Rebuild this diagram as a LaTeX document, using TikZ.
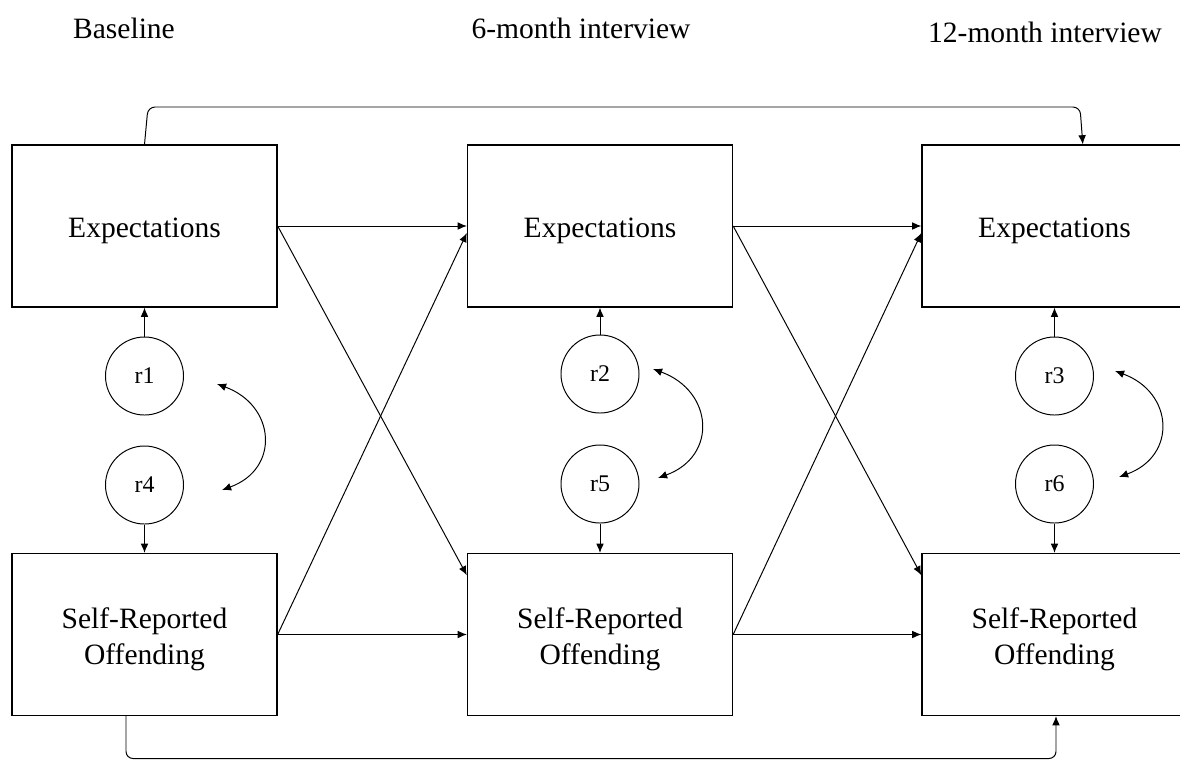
\documentclass[tikz,border=0pt]{standalone}
\usepackage{fontspec}
\setmainfont{Liberation Serif}
\usetikzlibrary{arrows.meta}
\usetikzlibrary{positioning}

\begin{document}
\begin{tikzpicture}[x=0.025cm,y=-0.025cm,
  box/.style={draw,line width=0.9pt,minimum width=6.625cm,minimum height=4.05cm},
  lbl/.style={align=center,yshift=-3.6pt,font=\fontsize{21}{25.5}\selectfont},
  resid/.style={draw,circle,line width=0.7pt,minimum size=1.95cm,inner sep=0pt,font=\fontsize{17}{20}\selectfont},
  head/.style={font=\fontsize{21}{25.5}\selectfont},
  arr/.style={line width=0.7pt,-{Latex[length=6.5pt,width=5.5pt]}},
  cov/.style={line width=0.7pt,{Latex[length=6.5pt,width=5.5pt]}-{Latex[length=6.5pt,width=5.5pt]}}]
\useasboundingbox (0,0) rectangle (1180,759);
\clip (0,0) rectangle (1180,759);

\node[head] (h1) at (124,28) {Baseline};
\node[head] (h2) at (581,28) {6-month interview};
\node[head] (h3) at (1045,32) {12-month interview};

\node[box,label={[lbl]center:Expectations}] (e1) at (144.5,226) {};
\node[box,label={[lbl]center:Expectations}] (e2) at (600,226) {};
\node[box,label={[lbl]center:Expectations}] (e3) at (1054.5,226) {};
\node[box,label={[lbl]center:Self-Reported\\Offending}] (s1) at (144.5,634.5) {};
\node[box,label={[lbl]center:Self-Reported\\Offending}] (s2) at (600,634.5) {};
\node[box,label={[lbl]center:Self-Reported\\Offending}] (s3) at (1054.5,634.5) {};

\node[resid] (r1) at (144.5,376) {r1};
\node[resid] (r4) at (144.5,485) {r4};
\node[resid] (r2) at (600,374) {r2};
\node[resid] (r5) at (600,484) {r5};
\node[resid] (r3) at (1054.5,376) {r3};
\node[resid] (r6) at (1054.5,484) {r6};

\draw[arr] (r1) -- (e1);
\draw[arr] (r4) -- (s1);
\draw[arr] (r2) -- (e2);
\draw[arr] (r5) -- (s2);
\draw[arr] (r3) -- (e3);
\draw[arr] (r6) -- (s3);

\coordinate (c1) at (217,384);
\coordinate (c4) at (222,490);
\coordinate (c2) at (653,369);
\coordinate (c5) at (658,478);
\coordinate (c3) at (1115,371);
\coordinate (c6) at (1119,477);
\draw[cov] (c1) to[out=-20,in=20,looseness=1.5] (c4);
\draw[cov] (c2) to[out=-20,in=20,looseness=1.5] (c5);
\draw[cov] (c3) to[out=-20,in=20,looseness=1.5] (c6);

\draw[arr] (e1.east) -- (e2.west);
\draw[arr] (e1.east) -- (s2.156);
\draw[arr] (s1.east) -- (e2.183);
\draw[arr] (s1.east) -- (s2.west);
\draw[arr] (e2.east) -- (e3.west);
\draw[arr] (e2.east) -- (s3.156);
\draw[arr] (s2.east) -- (e3.183);
\draw[arr] (s2.east) -- (s3.west);

\coordinate (tl) at (148,107);
\coordinate (tr) at (1080,107);
\draw[arr,rounded corners=5] (e1.north) -- (tl) -- (tr) -- ([xshift=2]tr |- e3.north);
\coordinate (bl) at (126,758.5);
\coordinate (br) at (1056,758.5);
\draw[arr,rounded corners=5] (bl |- s1.south) -- (bl) -- (br) -- (br |- s3.south);

\end{tikzpicture}
\end{document}
